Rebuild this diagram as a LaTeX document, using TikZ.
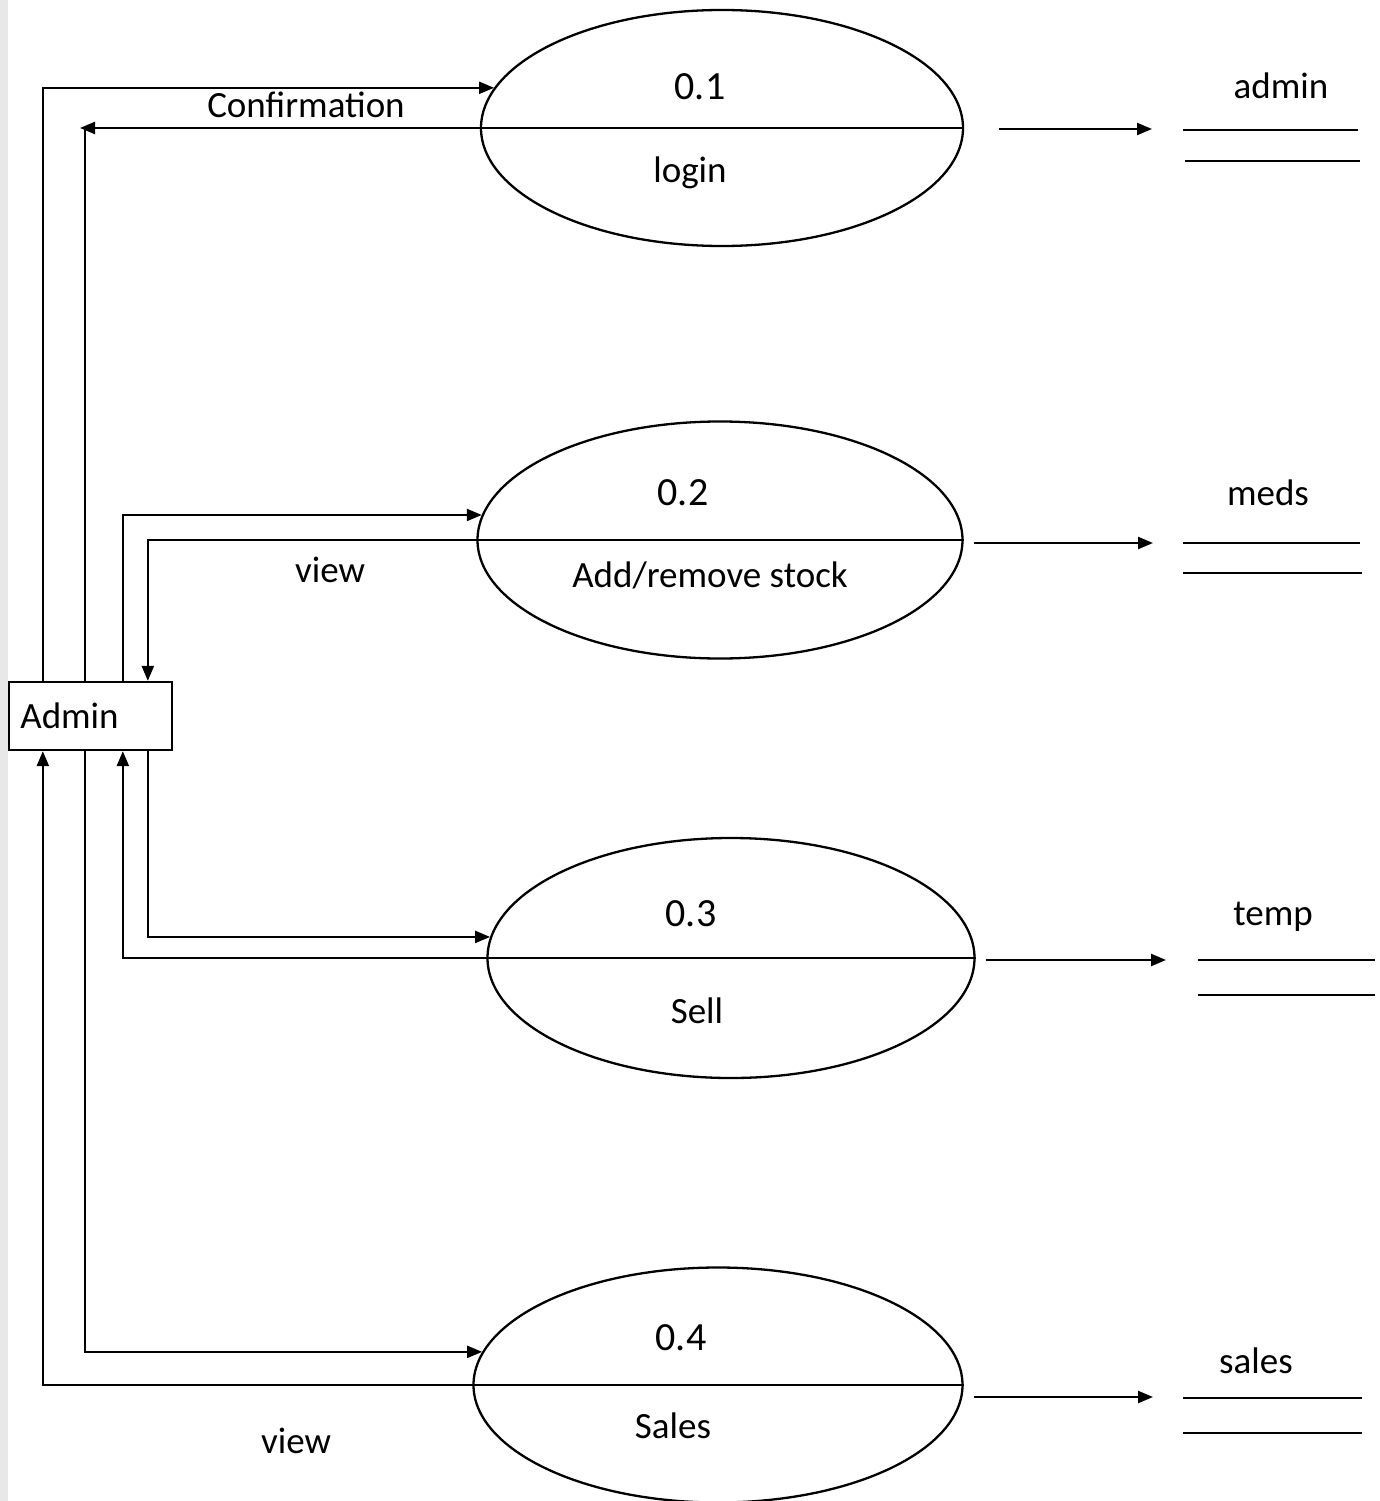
\documentclass[tikz,border=0pt]{standalone}
\usepackage{fontspec}
\setmainfont{Carlito}
\usetikzlibrary{arrows.meta,shapes.geometric}
\begin{document}
\begin{tikzpicture}[x=1pt,y=-1pt,
  line width=2.3pt,
  arr/.style={-{Triangle[length=15pt,width=12pt]}},
  proc/.style={draw,ellipse,inner sep=0pt},
  lbl/.style={font=\fontsize{37}{40}\selectfont,inner sep=0pt},
  num/.style={font=\fontsize{40}{44}\selectfont,inner sep=0pt},
  ent/.style={draw,rectangle,inner sep=0pt,minimum width=163pt,minimum height=68pt,font=\fontsize{37}{40}\selectfont}
]
\useasboundingbox (0,0) rectangle (1379,1501);
\fill[gray!18] (0,0) rectangle (8,1501);

% Admin entity
\node[ent] (admin) at (90.5,716) {\hspace*{-42pt}Admin};
\coordinate (t1) at ([xshift=35pt]admin.north west);
\coordinate (t2) at ([xshift=77pt]admin.north west);
\coordinate (t3) at ([xshift=115pt]admin.north west);
\coordinate (t4) at ([xshift=140pt]admin.north west);
\coordinate (b1) at ([xshift=35pt]admin.south west);
\coordinate (b2) at ([xshift=77pt]admin.south west);
\coordinate (b3) at ([xshift=115pt]admin.south west);
\coordinate (b4) at ([xshift=140pt]admin.south west);

% processes
\node[proc,minimum width=482pt,minimum height=236pt] (e1) at (722,128) {};
\node[proc,minimum width=485pt,minimum height=237pt] (e2) at (720,540) {};
\node[proc,minimum width=487pt,minimum height=240pt] (e3) at (731,958) {};
\node[proc,minimum width=489pt,minimum height=235pt] (e4) at (718,1385) {};
\foreach \e in {e1,e2,e3,e4}{\draw (\e.west) -- (\e.east);}

\node[num] (n1) at (700,87) {0.1};
\node[lbl] (l1) at (690,173) {login};
\node[num] (n2) at (683,493) {0.2};
\node[lbl] (l2) at (710,575) {Add/remove stock};
\node[num] (n3) at (691,914) {0.3};
\node[lbl] (l3) at (697,1011) {Sell};
\node[num] (n4) at (681,1338) {0.4};
\node[lbl] (l4) at (673,1426) {Sales};

% data stores
\node[lbl] (s1) at (1281,86) {admin};
\node[lbl] (s2) at (1268,493) {meds};
\node[lbl] (s3) at (1273,917) {temp};
\node[lbl] (s4) at (1256,1361) {sales};
\draw (1183,130) -- (1358,130) (1185,161) -- (1360,161);
\draw (1183,543) -- (1360,543) (1183,573) -- (1362,573);
\draw (1198,960) -- (1375,960) (1198,995) -- (1375,995);
\draw (1183,1398) -- (1362,1398) (1183,1433) -- (1362,1433);
\coordinate (d1) at (1152,129);
\coordinate (d2) at (1153,543);
\coordinate (d3) at (1166,960);
\coordinate (d4) at (1153,1397);
\draw[arr] ([xshift=35pt]e1.east |- d1) -- (d1);
\draw[arr] ([xshift=10pt]e2.east |- d2) -- (d2);
\draw[arr] ([xshift=10pt]e3.east |- d3) -- (d3);
\draw[arr] ([xshift=10pt]e4.east |- d4) -- (d4);

% flows between Admin and processes
\draw[arr] (t1) |- (e1.170);
\coordinate (c1) at (80,128);
\draw[arr] (e1.west) -- (c1);
\draw (t2) -- (t2 |- e1.west);
\draw[arr] (t3) |- (e2.174);
\draw[arr] (e2.west) -| (t4);
\draw[arr] (b4) |- (e3.175.5);
\draw[arr] (e3.west) -| (b3);
\draw[arr] (b2) |- (e4.172.8);
\draw[arr] (e4.west) -| (b1);

\node[lbl] (conf) at (306,105) {Confirmation};
\node[lbl] (v1) at (330,570) {view};
\node[lbl] (v2) at (296,1441) {view};
\end{tikzpicture}
\end{document}
